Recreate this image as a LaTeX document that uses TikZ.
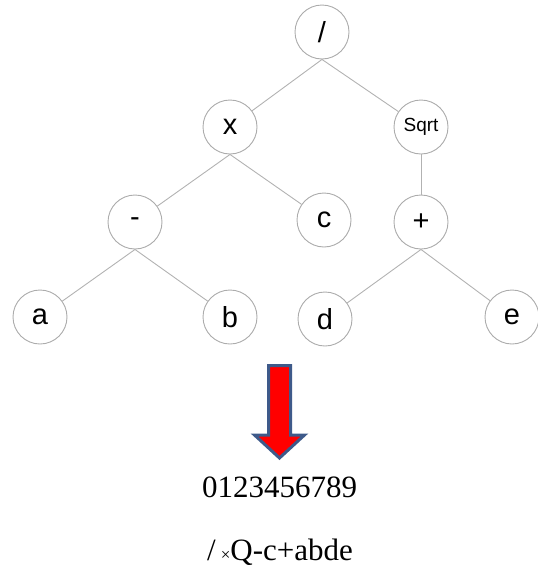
\documentclass[tikz,border=0pt]{standalone}
\usepackage{fontspec}
\setmainfont{Liberation Serif}
\newfontfamily\treefont{Liberation Sans}
\usepackage{tikz}
\usetikzlibrary{positioning, calc}

\begin{document}
\begin{tikzpicture}[
        x=1pt, y=-1pt,
        opnode/.style={circle, draw=gray!65, line width=0.9pt, fill=white, minimum size=54pt, inner sep=0pt, font=\treefont\fontsize{29}{29}\selectfont},
        smallop/.style={opnode, font=\treefont\fontsize{19}{19}\selectfont},
        edge/.style={draw=gray!60, line width=0.9pt},
        bigarrow/.style={draw={rgb,255:red,62;green,90;blue,138}, line width=3pt, fill=red, line join=miter},
        result/.style={font=\fontsize{31}{31}\selectfont, anchor=base, inner sep=0pt}
    ]
        \useasboundingbox (0,0) rectangle (538,576);

        % 1. Root and operators
        \node (slash) [opnode] at (322,32) {/};
        \node (times) [opnode] at (230,127) {x};
        \node (sqrt) [smallop] at (421,127) {Sqrt};
        \node (minus) [opnode] at (135,222) {-};
        \node (c) [opnode] at (324,220) {c};
        \node (plus) [opnode] at (421,222) {+};

        % 2. Leaves
        \node (a) [opnode] at (40,317) {a};
        \node (b) [opnode] at (230,317) {b};
        \node (d) [opnode] at (325,319) {d};
        \node (e) [opnode] at (512,317) {e};

        % Connections
        \draw [edge] (slash.south) -- (times);
        \draw [edge] (slash.south) -- (sqrt);
        \draw [edge] (times.south) -- (minus);
        \draw [edge] (times.south) -- (c);
        \draw [edge] (sqrt.south) -- (plus);
        \draw [edge] (minus.south) -- (a);
        \draw [edge] (minus.south) -- (b);
        \draw [edge] (plus.south) -- (d);
        \draw [edge] (plus.south) -- (e);

        % 3. Down arrow
        \coordinate (arrow_top) at (279.5,365.5);
        \draw [bigarrow] ($(arrow_top)+(-11,0)$) -- ($(arrow_top)+(11,0)$)
            -- ($(arrow_top)+(11,69.5)$) -- ($(arrow_top)+(25,69.5)$)
            -- ($(arrow_top)+(0,92.5)$) -- ($(arrow_top)+(-25,69.5)$)
            -- ($(arrow_top)+(-11,69.5)$) -- cycle;

        % 4. Output
        \node (digits) [result] at (279.5,497) {0123456789};
        \node (prefix) [result] at (280,560) {/\,{\fontsize{17}{17}\selectfont ×}Q-c+abde};

    \end{tikzpicture}
\end{document}
